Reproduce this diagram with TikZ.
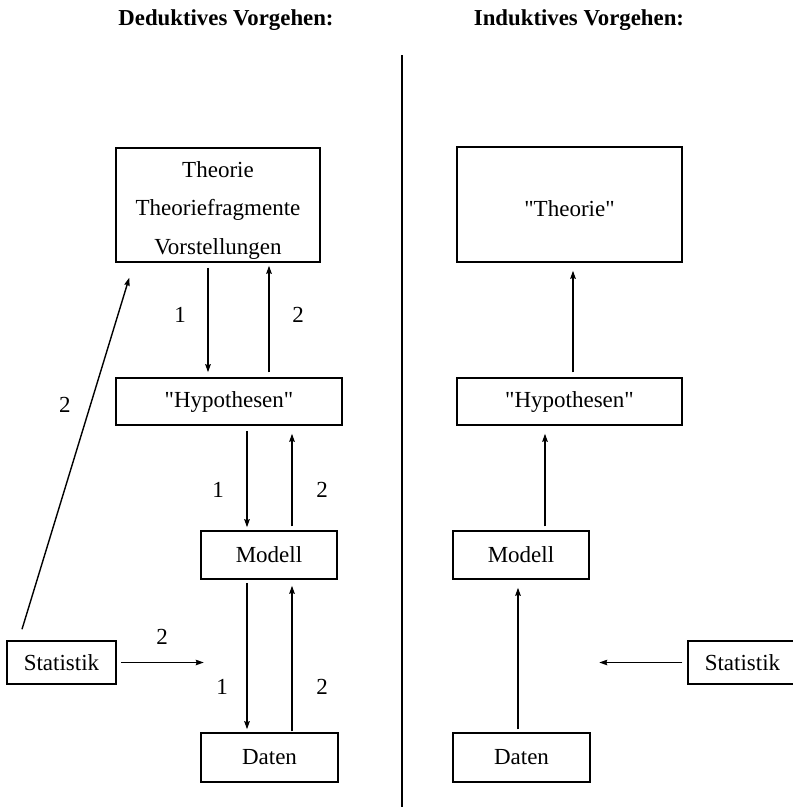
\documentclass[tikz,border=0pt]{standalone}
\usepackage{fontspec}
\setmainfont{Liberation Serif}[Ligatures=TeXOff]
\usetikzlibrary{arrows.meta,calc}
\begin{document}
\begin{tikzpicture}[x=1pt,y=-1pt,
  box/.style={draw,line width=1.5pt,inner sep=0pt,font=\fontsize{23}{38.5}\selectfont,align=center},
  txt/.style={inner sep=0pt,font=\fontsize{23}{38.5}\selectfont,align=center},
  arr/.style={line width=1.4pt,-{Stealth[length=8pt,width=5.5pt,inset=1pt]}},
  ln/.style={line width=1.5pt},
  lbl/.style={font=\fontsize{23}{27}\selectfont,inner sep=0pt},
  ttl/.style={font=\fontsize{22.8}{27}\selectfont\bfseries,inner sep=0pt}]
\useasboundingbox (0,0) rectangle (793,807);
\clip (0,0) rectangle (793,807);
% titles
\node[ttl] (tD) at (226,20) {Deduktives Vorgehen:};
\node[ttl] (tI) at (579,20) {Induktives Vorgehen:};
% divider
\coordinate (divT) at (402,55);
\coordinate (divB) at (402,807);
\draw[ln] (divT) -- (divB);
% left boxes
\node[box,minimum width=204pt,minimum height=114pt] (theoL) at (218,205) {};
\node[txt] (theoLtxt) at ($(theoL.center)+(0,5)$) {Theorie\\Theoriefragmente\\Vorstellungen};
\node[box,minimum width=226pt,minimum height=47pt] (hypL) at (229,401.5) {"Hypothesen"};
\node[box,minimum width=136pt,minimum height=48pt] (modL) at (269,555) {Modell};
\node[box,minimum width=137pt,minimum height=49pt] (datL) at (269.5,757.5) {Daten};
\node[box,minimum width=109pt,minimum height=43pt] (statL) at (61.5,662.5) {Statistik};
% right boxes
\node[box,minimum width=225pt,minimum height=115pt] (theoR) at (569.5,204.5) {};
\node[txt] (theoRtxt) at ($(theoR.center)+(0,4)$) {"Theorie"};
\node[box,minimum width=225pt,minimum height=47pt] (hypR) at (569.5,401.5) {"Hypothesen"};
\node[box,minimum width=136pt,minimum height=48pt] (modR) at (521,555) {Modell};
\node[box,minimum width=137pt,minimum height=49pt] (datR) at (521.5,757.5) {Daten};
\node[box,minimum width=109pt,minimum height=43pt] (statR) at (742.5,662.5) {Statistik};
% left arrows
\draw[arr] ($(theoL.south)+(-10,5)$) -- ($(theoL.south |- hypL.north)+(-10,-5)$);
\draw[arr] ($(theoL.south |- hypL.north)+(51,-5)$) -- ($(theoL.south)+(51,3)$);
\draw[arr] ($(hypL.south)+(18,5)$) -- ($(hypL.south |- modL.north)+(18,-3)$);
\draw[arr] ($(hypL.south |- modL.north)+(63,-4)$) -- ($(hypL.south)+(63,8)$);
\draw[arr] ($(modL.south)+(-22,3)$) -- ($(modL.south |- datL.north)+(-22,-3)$);
\draw[arr] ($(modL.south |- datL.north)+(23,-1)$) -- ($(modL.south)+(23,6)$);
\coordinate (diagEnd) at ($(theoL.south west)+(14,15)$);
\draw[arr] ($(statL.north)+(-39.5,-11)$) -- (diagEnd);
\coordinate (statEndL) at ($(statL.east)+(87,0)$);
\draw[arr] ($(statL.east)+(4,0)$) -- (statEndL);
% right arrows
\draw[arr] ($(hypR.north)+(3.5,-5)$) -- ($(hypR.north |- theoR.south)+(3.5,8)$);
\draw[arr] ($(modR.north)+(24,-4)$) -- ($(modR.north |- hypR.south)+(24,8)$);
\draw[arr] ($(datR.north)+(-3.5,-3)$) -- ($(datR.north |- modR.south)+(-3.5,8)$);
\coordinate (statEndR) at ($(statR.west)+(-88,0)$);
\draw[arr] ($(statR.west)+(-5,0)$) -- (statEndR);
% labels
\node[lbl] (l1) at (180,315) {1};
\node[lbl] (l2) at (298,315) {2};
\node[lbl] (l3) at (65,405) {2};
\node[lbl] (l4) at (218,490) {1};
\node[lbl] (l5) at (322,490) {2};
\node[lbl] (l6) at (222,687) {1};
\node[lbl] (l7) at (322,687) {2};
\node[lbl] (l8) at (162,637) {2};
\end{tikzpicture}
\end{document}
